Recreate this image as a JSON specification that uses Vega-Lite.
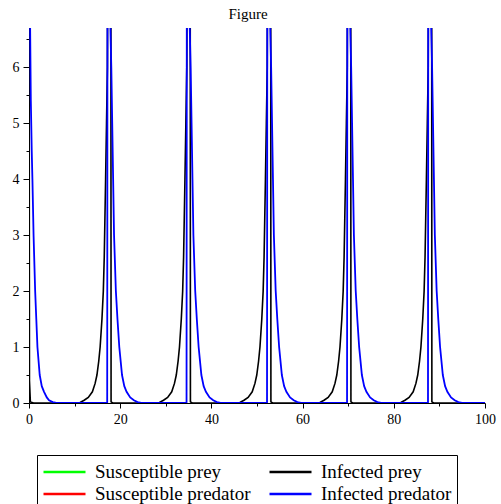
{
  "$schema": "https://vega.github.io/schema/vega-lite/v6.json",
  "width": 456,
  "height": 375,
  "autosize": {"type": "none"},
  "padding": {"left": 29, "top": 28, "right": 16, "bottom": 101},
  "background": "white",
  "title": {"text": "Figure", "font": "Liberation Serif", "fontSize": 15, "fontWeight": "normal", "color": "black", "anchor": "middle", "dx": -9, "offset": 6},
  "config": {"view": {"stroke": null}},
  "data": {"values": [
    {"t": 0, "v": 9, "s": "Infected prey"},
    {"t": 0.1, "v": 0.4, "s": "Infected prey"},
    {"t": 0.3, "v": 0.02, "s": "Infected prey"},
    {"t": 1.0, "v": 0, "s": "Infected prey"},
    {"t": 9.7, "v": 0, "s": "Infected prey"},
    {"t": 11.2, "v": 0.01, "s": "Infected prey"},
    {"t": 12.1, "v": 0.05, "s": "Infected prey"},
    {"t": 13.0, "v": 0.1, "s": "Infected prey"},
    {"t": 13.9, "v": 0.2, "s": "Infected prey"},
    {"t": 14.5, "v": 0.35, "s": "Infected prey"},
    {"t": 14.9, "v": 0.5, "s": "Infected prey"},
    {"t": 15.3, "v": 0.75, "s": "Infected prey"},
    {"t": 15.6, "v": 1, "s": "Infected prey"},
    {"t": 16.0, "v": 1.5, "s": "Infected prey"},
    {"t": 16.3, "v": 2, "s": "Infected prey"},
    {"t": 16.5, "v": 2.6, "s": "Infected prey"},
    {"t": 16.65, "v": 3.3, "s": "Infected prey"},
    {"t": 16.8, "v": 4, "s": "Infected prey"},
    {"t": 17.0, "v": 5, "s": "Infected prey"},
    {"t": 17.2, "v": 6, "s": "Infected prey"},
    {"t": 17.3, "v": 9, "s": "Infected prey"},
    {"t": 17.95, "v": 9, "s": "Infected prey"},
    {"t": 18.0, "v": 0.02, "s": "Infected prey"},
    {"t": 18.4, "v": 0, "s": "Infected prey"},
    {"t": 27.1, "v": 0, "s": "Infected prey"},
    {"t": 28.6, "v": 0.01, "s": "Infected prey"},
    {"t": 29.5, "v": 0.05, "s": "Infected prey"},
    {"t": 30.4, "v": 0.1, "s": "Infected prey"},
    {"t": 31.3, "v": 0.2, "s": "Infected prey"},
    {"t": 31.9, "v": 0.35, "s": "Infected prey"},
    {"t": 32.3, "v": 0.5, "s": "Infected prey"},
    {"t": 32.7, "v": 0.75, "s": "Infected prey"},
    {"t": 33.0, "v": 1, "s": "Infected prey"},
    {"t": 33.4, "v": 1.5, "s": "Infected prey"},
    {"t": 33.7, "v": 2, "s": "Infected prey"},
    {"t": 33.9, "v": 2.6, "s": "Infected prey"},
    {"t": 34.05, "v": 3.3, "s": "Infected prey"},
    {"t": 34.2, "v": 4, "s": "Infected prey"},
    {"t": 34.4, "v": 5, "s": "Infected prey"},
    {"t": 34.6, "v": 6, "s": "Infected prey"},
    {"t": 34.7, "v": 9, "s": "Infected prey"},
    {"t": 35.35, "v": 9, "s": "Infected prey"},
    {"t": 35.4, "v": 0.02, "s": "Infected prey"},
    {"t": 35.8, "v": 0, "s": "Infected prey"},
    {"t": 44.75, "v": 0, "s": "Infected prey"},
    {"t": 46.25, "v": 0.01, "s": "Infected prey"},
    {"t": 47.15, "v": 0.05, "s": "Infected prey"},
    {"t": 48.05, "v": 0.1, "s": "Infected prey"},
    {"t": 48.95, "v": 0.2, "s": "Infected prey"},
    {"t": 49.55, "v": 0.35, "s": "Infected prey"},
    {"t": 49.95, "v": 0.5, "s": "Infected prey"},
    {"t": 50.35, "v": 0.75, "s": "Infected prey"},
    {"t": 50.65, "v": 1, "s": "Infected prey"},
    {"t": 51.05, "v": 1.5, "s": "Infected prey"},
    {"t": 51.35, "v": 2, "s": "Infected prey"},
    {"t": 51.55, "v": 2.6, "s": "Infected prey"},
    {"t": 51.7, "v": 3.3, "s": "Infected prey"},
    {"t": 51.85, "v": 4, "s": "Infected prey"},
    {"t": 52.05, "v": 5, "s": "Infected prey"},
    {"t": 52.25, "v": 6, "s": "Infected prey"},
    {"t": 52.35, "v": 9, "s": "Infected prey"},
    {"t": 53.0, "v": 9, "s": "Infected prey"},
    {"t": 53.05, "v": 0.02, "s": "Infected prey"},
    {"t": 53.45, "v": 0, "s": "Infected prey"},
    {"t": 62.3, "v": 0, "s": "Infected prey"},
    {"t": 63.8, "v": 0.01, "s": "Infected prey"},
    {"t": 64.7, "v": 0.05, "s": "Infected prey"},
    {"t": 65.6, "v": 0.1, "s": "Infected prey"},
    {"t": 66.5, "v": 0.2, "s": "Infected prey"},
    {"t": 67.1, "v": 0.35, "s": "Infected prey"},
    {"t": 67.5, "v": 0.5, "s": "Infected prey"},
    {"t": 67.9, "v": 0.75, "s": "Infected prey"},
    {"t": 68.2, "v": 1, "s": "Infected prey"},
    {"t": 68.6, "v": 1.5, "s": "Infected prey"},
    {"t": 68.9, "v": 2, "s": "Infected prey"},
    {"t": 69.1, "v": 2.6, "s": "Infected prey"},
    {"t": 69.25, "v": 3.3, "s": "Infected prey"},
    {"t": 69.4, "v": 4, "s": "Infected prey"},
    {"t": 69.6, "v": 5, "s": "Infected prey"},
    {"t": 69.8, "v": 6, "s": "Infected prey"},
    {"t": 69.9, "v": 9, "s": "Infected prey"},
    {"t": 70.55, "v": 9, "s": "Infected prey"},
    {"t": 70.6, "v": 0.02, "s": "Infected prey"},
    {"t": 71.0, "v": 0, "s": "Infected prey"},
    {"t": 80.05, "v": 0, "s": "Infected prey"},
    {"t": 81.55, "v": 0.01, "s": "Infected prey"},
    {"t": 82.45, "v": 0.05, "s": "Infected prey"},
    {"t": 83.35, "v": 0.1, "s": "Infected prey"},
    {"t": 84.25, "v": 0.2, "s": "Infected prey"},
    {"t": 84.85, "v": 0.35, "s": "Infected prey"},
    {"t": 85.25, "v": 0.5, "s": "Infected prey"},
    {"t": 85.65, "v": 0.75, "s": "Infected prey"},
    {"t": 85.95, "v": 1, "s": "Infected prey"},
    {"t": 86.35, "v": 1.5, "s": "Infected prey"},
    {"t": 86.65, "v": 2, "s": "Infected prey"},
    {"t": 86.85, "v": 2.6, "s": "Infected prey"},
    {"t": 87.0, "v": 3.3, "s": "Infected prey"},
    {"t": 87.15, "v": 4, "s": "Infected prey"},
    {"t": 87.35, "v": 5, "s": "Infected prey"},
    {"t": 87.55, "v": 6, "s": "Infected prey"},
    {"t": 87.65, "v": 9, "s": "Infected prey"},
    {"t": 88.3, "v": 9, "s": "Infected prey"},
    {"t": 88.35, "v": 0.02, "s": "Infected prey"},
    {"t": 88.75, "v": 0, "s": "Infected prey"},
    {"t": 100, "v": 0, "s": "Infected prey"},

    {"t": 0, "v": 9, "s": "Infected predator"},
    {"t": 0.25, "v": 6.7, "s": "Infected predator"},
    {"t": 0.4, "v": 5.4, "s": "Infected predator"},
    {"t": 0.6, "v": 4.5, "s": "Infected predator"},
    {"t": 0.75, "v": 4, "s": "Infected predator"},
    {"t": 1.0, "v": 3, "s": "Infected predator"},
    {"t": 1.35, "v": 2, "s": "Infected predator"},
    {"t": 1.6, "v": 1.5, "s": "Infected predator"},
    {"t": 1.85, "v": 1, "s": "Infected predator"},
    {"t": 2.35, "v": 0.5, "s": "Infected predator"},
    {"t": 2.8, "v": 0.3, "s": "Infected predator"},
    {"t": 3.3, "v": 0.2, "s": "Infected predator"},
    {"t": 3.9, "v": 0.1, "s": "Infected predator"},
    {"t": 4.4, "v": 0.05, "s": "Infected predator"},
    {"t": 5.2, "v": 0.015, "s": "Infected predator"},
    {"t": 6.0, "v": 0, "s": "Infected predator"},
    {"t": 17.15, "v": 0, "s": "Infected predator"},
    {"t": 17.22, "v": 9, "s": "Infected predator"},
    {"t": 17.8, "v": 9, "s": "Infected predator"},
    {"t": 17.85, "v": 6.7, "s": "Infected predator"},
    {"t": 18.05, "v": 6, "s": "Infected predator"},
    {"t": 18.25, "v": 5, "s": "Infected predator"},
    {"t": 18.45, "v": 4, "s": "Infected predator"},
    {"t": 18.65, "v": 3, "s": "Infected predator"},
    {"t": 19.05, "v": 2, "s": "Infected predator"},
    {"t": 19.4, "v": 1.5, "s": "Infected predator"},
    {"t": 19.8, "v": 1, "s": "Infected predator"},
    {"t": 20.4, "v": 0.5, "s": "Infected predator"},
    {"t": 20.9, "v": 0.3, "s": "Infected predator"},
    {"t": 21.4, "v": 0.2, "s": "Infected predator"},
    {"t": 22.2, "v": 0.1, "s": "Infected predator"},
    {"t": 23.0, "v": 0.05, "s": "Infected predator"},
    {"t": 23.8, "v": 0.015, "s": "Infected predator"},
    {"t": 24.6, "v": 0, "s": "Infected predator"},
    {"t": 34.55, "v": 0, "s": "Infected predator"},
    {"t": 34.62, "v": 9, "s": "Infected predator"},
    {"t": 35.2, "v": 9, "s": "Infected predator"},
    {"t": 35.25, "v": 6.7, "s": "Infected predator"},
    {"t": 35.45, "v": 6, "s": "Infected predator"},
    {"t": 35.65, "v": 5, "s": "Infected predator"},
    {"t": 35.85, "v": 4, "s": "Infected predator"},
    {"t": 36.05, "v": 3, "s": "Infected predator"},
    {"t": 36.45, "v": 2, "s": "Infected predator"},
    {"t": 36.8, "v": 1.5, "s": "Infected predator"},
    {"t": 37.2, "v": 1, "s": "Infected predator"},
    {"t": 37.8, "v": 0.5, "s": "Infected predator"},
    {"t": 38.3, "v": 0.3, "s": "Infected predator"},
    {"t": 38.8, "v": 0.2, "s": "Infected predator"},
    {"t": 39.6, "v": 0.1, "s": "Infected predator"},
    {"t": 40.4, "v": 0.05, "s": "Infected predator"},
    {"t": 41.2, "v": 0.015, "s": "Infected predator"},
    {"t": 42.0, "v": 0, "s": "Infected predator"},
    {"t": 52.2, "v": 0, "s": "Infected predator"},
    {"t": 52.27, "v": 9, "s": "Infected predator"},
    {"t": 52.85, "v": 9, "s": "Infected predator"},
    {"t": 52.9, "v": 6.7, "s": "Infected predator"},
    {"t": 53.1, "v": 6, "s": "Infected predator"},
    {"t": 53.3, "v": 5, "s": "Infected predator"},
    {"t": 53.5, "v": 4, "s": "Infected predator"},
    {"t": 53.7, "v": 3, "s": "Infected predator"},
    {"t": 54.1, "v": 2, "s": "Infected predator"},
    {"t": 54.45, "v": 1.5, "s": "Infected predator"},
    {"t": 54.85, "v": 1, "s": "Infected predator"},
    {"t": 55.45, "v": 0.5, "s": "Infected predator"},
    {"t": 55.95, "v": 0.3, "s": "Infected predator"},
    {"t": 56.45, "v": 0.2, "s": "Infected predator"},
    {"t": 57.25, "v": 0.1, "s": "Infected predator"},
    {"t": 58.05, "v": 0.05, "s": "Infected predator"},
    {"t": 58.85, "v": 0.015, "s": "Infected predator"},
    {"t": 59.65, "v": 0, "s": "Infected predator"},
    {"t": 69.75, "v": 0, "s": "Infected predator"},
    {"t": 69.82, "v": 9, "s": "Infected predator"},
    {"t": 70.4, "v": 9, "s": "Infected predator"},
    {"t": 70.45, "v": 6.7, "s": "Infected predator"},
    {"t": 70.65, "v": 6, "s": "Infected predator"},
    {"t": 70.85, "v": 5, "s": "Infected predator"},
    {"t": 71.05, "v": 4, "s": "Infected predator"},
    {"t": 71.25, "v": 3, "s": "Infected predator"},
    {"t": 71.65, "v": 2, "s": "Infected predator"},
    {"t": 72.0, "v": 1.5, "s": "Infected predator"},
    {"t": 72.4, "v": 1, "s": "Infected predator"},
    {"t": 73.0, "v": 0.5, "s": "Infected predator"},
    {"t": 73.5, "v": 0.3, "s": "Infected predator"},
    {"t": 74.0, "v": 0.2, "s": "Infected predator"},
    {"t": 74.8, "v": 0.1, "s": "Infected predator"},
    {"t": 75.6, "v": 0.05, "s": "Infected predator"},
    {"t": 76.4, "v": 0.015, "s": "Infected predator"},
    {"t": 77.2, "v": 0, "s": "Infected predator"},
    {"t": 87.5, "v": 0, "s": "Infected predator"},
    {"t": 87.57, "v": 9, "s": "Infected predator"},
    {"t": 88.15, "v": 9, "s": "Infected predator"},
    {"t": 88.2, "v": 6.7, "s": "Infected predator"},
    {"t": 88.4, "v": 6, "s": "Infected predator"},
    {"t": 88.6, "v": 5, "s": "Infected predator"},
    {"t": 88.8, "v": 4, "s": "Infected predator"},
    {"t": 89.0, "v": 3, "s": "Infected predator"},
    {"t": 89.4, "v": 2, "s": "Infected predator"},
    {"t": 89.75, "v": 1.5, "s": "Infected predator"},
    {"t": 90.15, "v": 1, "s": "Infected predator"},
    {"t": 90.75, "v": 0.5, "s": "Infected predator"},
    {"t": 91.25, "v": 0.3, "s": "Infected predator"},
    {"t": 91.75, "v": 0.2, "s": "Infected predator"},
    {"t": 92.55, "v": 0.1, "s": "Infected predator"},
    {"t": 93.35, "v": 0.05, "s": "Infected predator"},
    {"t": 94.15, "v": 0.015, "s": "Infected predator"},
    {"t": 94.95, "v": 0, "s": "Infected predator"},
    {"t": 100, "v": 0, "s": "Infected predator"}
  ]},
  "encoding": {
    "x": {"field": "t", "type": "quantitative",
      "scale": {"domain": [0, 100], "nice": false, "zero": false},
      "axis": {"title": null, "grid": false, "values": [0,10,20,30,40,50,60,70,80,90,100],
        "format": ".0f",
        "labelExpr": "datum.value % 20 === 0 ? datum.label : ''",
        "tickSize": {"condition": {"test": "datum.value % 20 === 0", "value": 5}, "value": 3},
        "domainColor": "black", "tickColor": "black", "labelColor": "black",
        "labelFont": "Liberation Serif", "labelFontSize": 14, "labelPadding": 4,
        "labelFlush": false, "labelOverlap": false}},
    "y": {"field": "v", "type": "quantitative",
      "scale": {"domain": [0, 6.7], "nice": false},
      "axis": {"title": null, "grid": false, "values": [0,0.5,1,1.5,2,2.5,3,3.5,4,4.5,5,5.5,6,6.5],
        "format": ".0f",
        "labelExpr": "datum.value % 1 === 0 ? datum.label : ''",
        "tickSize": {"condition": {"test": "datum.value % 1 === 0", "value": 6}, "value": 3},
        "domainColor": "black", "tickColor": "black", "labelColor": "black",
        "labelFont": "Liberation Serif", "labelFontSize": 14, "labelPadding": 4,
        "labelFlush": false, "labelOverlap": false}},
    "color": {"field": "s", "type": "nominal",
      "scale": {"domain": ["Susceptible prey", "Infected prey", "Susceptible predator", "Infected predator"],
                "range": ["#00ff00", "#000000", "#ff0000", "#0000ff"]},
      "legend": {"title": null, "orient": "none", "legendX": 8, "legendY": 427, "columns": 2,
        "direction": "horizontal",
        "strokeColor": "black", "padding": 5, "symbolType": "M-1,0H3", "symbolSize": 441,
        "symbolStrokeWidth": 2.5, "labelFont": "Liberation Serif", "labelFontSize": 19,
        "labelColor": "black", "labelLimit": 300, "labelOffset": 29, "columnPadding": 13, "rowPadding": 0}}
  },
  "layer": [
    {"transform": [{"filter": "datum.s === 'Infected prey'"}],
     "mark": {"type": "line", "clip": true, "strokeWidth": 1.6}},
    {"transform": [{"filter": "datum.s === 'Infected predator'"}],
     "mark": {"type": "line", "clip": true, "strokeWidth": 1.8}}
  ]
}
